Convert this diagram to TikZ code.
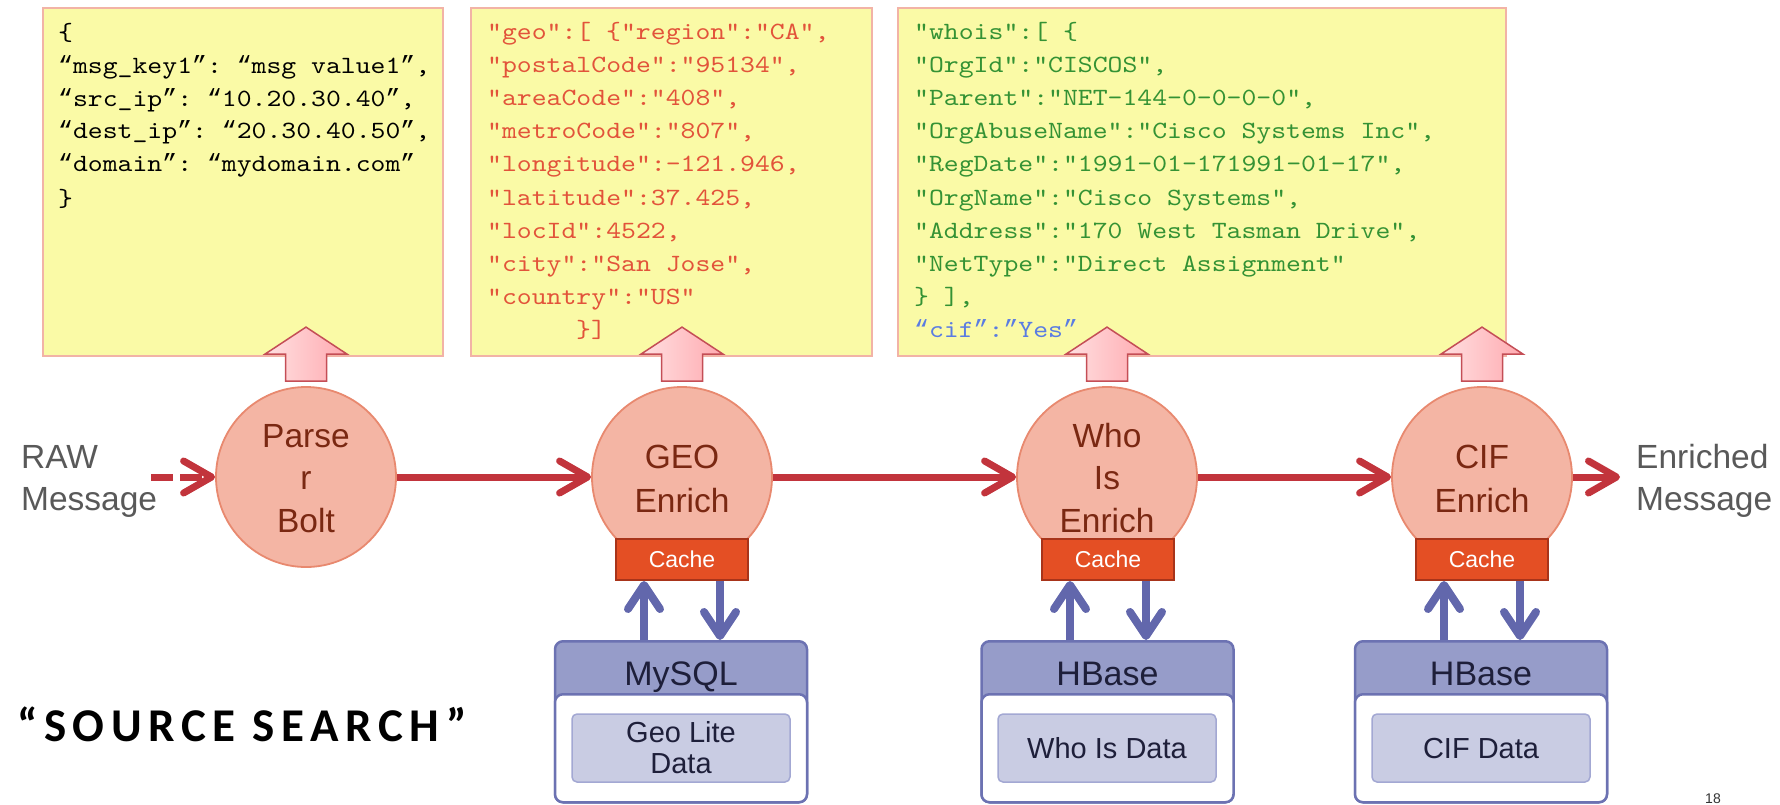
\documentclass[tikz,border=0pt]{standalone}
\usepackage{fontspec}
\setmainfont{Liberation Sans}
\setmonofont{lmmono10-regular.otf}[FakeStretch=1.143]
\newfontfamily\quotemono{Liberation Mono}
\newfontfamily\spacedfont[LetterSpace=14]{Carlito}
\usetikzlibrary{arrows.meta,calc}

% typographic quotes in the code listings
\newcommand{\oq}{{\quotemono “}}
\newcommand{\cq}{{\quotemono ”}}

\definecolor{noteFill}{HTML}{FAFAA6}
\definecolor{noteLine}{HTML}{F2B3A6}
\definecolor{geoText}{HTML}{E2533A}
\definecolor{whoText}{HTML}{349234}
\definecolor{cifText}{HTML}{5A7CE2}
\definecolor{bubbleFill}{HTML}{F4B5A4}
\definecolor{bubbleLine}{HTML}{E8896F}
\definecolor{bubbleText}{HTML}{7A2812}
\definecolor{flowRed}{HTML}{C2343C}
\definecolor{liftLight}{HTML}{FFE0E1}
\definecolor{liftDark}{HTML}{FFAAB0}
\definecolor{liftLine}{HTML}{C44E56}
\definecolor{cacheFill}{HTML}{E44F24}
\definecolor{cacheLine}{HTML}{A8341A}
\definecolor{storeBlue}{HTML}{6267AC}
\definecolor{storeHead}{HTML}{969CC9}
\definecolor{storeLine}{HTML}{6C72B2}
\definecolor{storeInner}{HTML}{C9CCE3}
\definecolor{storeInnerLine}{HTML}{A3A8D3}
\definecolor{storeText}{HTML}{1E1F3A}
\definecolor{greyText}{HTML}{595959}

\begin{document}
\begin{tikzpicture}[x=1pt, y=-1pt,
  note/.style={draw=noteLine, fill=noteFill, line width=1.5pt, inner sep=0pt, anchor=north west, minimum height=348pt},
  code/.style={anchor=base west, inner sep=0pt, font=\ttfamily\fontsize{24.8}{30}\selectfont},
  bubble/.style={circle, minimum size=180pt, inner sep=0pt, fill=bubbleFill, draw=bubbleLine, line width=1.8pt},
  bubbletext/.style={anchor=base, inner sep=0pt, text=bubbleText, font=\fontsize{33.5}{40}\selectfont},
  cachebox/.style={minimum width=132pt, minimum height=41pt, inner sep=0pt, fill=cacheFill, draw=cacheLine, line width=2pt, text=white, font=\fontsize{23}{28}\selectfont},
  flow/.style={draw=flowRed, line width=7pt, -{Straight Barb[length=28pt,width=32pt,round]}},
  lift/.style={draw=liftLine, line width=1.5pt, left color=liftLight, right color=liftDark, line join=miter},
  fetch/.style={draw=storeBlue, line width=8pt, -{Straight Barb[length=24pt,width=32pt,round]}},
  store/.style={rectangle, rounded corners=8pt, minimum width=252pt, inner sep=0pt, draw=storeLine, line width=2.5pt, anchor=north},
  storeinner/.style={rectangle, rounded corners=5pt, minimum width=218pt, minimum height=68pt, inner sep=0pt, fill=storeInner, draw=storeInnerLine, line width=1.5pt},
  storetext/.style={anchor=base, inner sep=0pt, text=storeText, font=\fontsize{34}{40}\selectfont},
  innertext/.style={anchor=base, inner sep=0pt, text=storeText, font=\fontsize{29}{34}\selectfont},
  side/.style={anchor=base west, inner sep=0pt, text=greyText, font=\fontsize{33.5}{40}\selectfont}
]
\useasboundingbox (0,0) rectangle (1780,804);

% ---------- message notes ----------
\node[note, minimum width=400pt] (rawnote) at (42,7) {};
\node[note, minimum width=401pt] (geonote) at (470,7) {};
\node[note, minimum width=608pt] (whonote) at (897,7) {};

% raw message
\node[code] (a1) at (58,40)  {\{};
\node[code] (a2) at (58,73)  {\oq msg\_key1\cq: \oq msg value1\cq,};
\node[code] (a3) at (58,106) {\oq src\_ip\cq: \oq 10.20.30.40\cq,};
\node[code] (a4) at (58,138) {\oq dest\_ip\cq: \oq 20.30.40.50\cq,};
\node[code] (a5) at (58,171) {\oq domain\cq: \oq mydomain.com\cq};
\node[code] (a6) at (58,206) {\}};

% geo enrichment
\begin{scope}[every node/.append style={text=geoText}]
\node[code] (b1)  at (487,39)    {"geo":[ \{"region":"CA",};
\node[code] (b2)  at (487,72.2)  {"postalCode":"95134",};
\node[code] (b3)  at (487,105.4) {"areaCode":"408",};
\node[code] (b4)  at (487,138.6) {"metroCode":"807",};
\node[code] (b5)  at (487,171.8) {"longitude":-121.946,};
\node[code] (b6)  at (487,205)   {"latitude":37.425,};
\node[code] (b7)  at (487,238.2) {"locId":4522,};
\node[code] (b8)  at (487,271.4) {"city":"San Jose",};
\node[code] (b9)  at (487,304.6) {"country":"US"};
\node[code] (b10) at (576,337.8) {\}]};
\end{scope}

% whois and cif enrichment
\begin{scope}[every node/.append style={text=whoText}]
\node[code] (w1)  at (914,39)    {"whois":[ \{};
\node[code] (w2)  at (914,72.2)  {"OrgId":"CISCOS",};
\node[code] (w3)  at (914,105.4) {"Parent":"NET-144-0-0-0-0",};
\node[code] (w4)  at (914,138.6) {"OrgAbuseName":"Cisco Systems Inc",};
\node[code] (w5)  at (914,171.8) {"RegDate":"1991-01-171991-01-17",};
\node[code] (w6)  at (914,205)   {"OrgName":"Cisco Systems",};
\node[code] (w7)  at (914,238.2) {"Address":"170 West Tasman Drive",};
\node[code] (w8)  at (914,271.4) {"NetType":"Direct Assignment"};
\node[code] (w9)  at (914,304.6) {\} ],};
\end{scope}
\node[code, text=cifText] (w10) at (914,337.8) {\oq cif\cq:\cq Yes\cq};

% ---------- processing bolts ----------
\node[bubble] (parser) at (306,477) {};
\node[bubble] (geo)    at (682,477) {};
\node[bubble] (who)    at (1107,477) {};
\node[bubble] (cif)    at (1482,477) {};

\node[bubbletext] (p1) at (306,447) {Parse};
\node[bubbletext] (p2) at (306,489) {r};
\node[bubbletext] (p3) at (306,532) {Bolt};
\node[bubbletext] (g1) at (682,468) {GEO};
\node[bubbletext] (g2) at (682,512) {Enrich};
\node[bubbletext] (h1) at (1107,447) {Who};
\node[bubbletext] (h2) at (1107,489) {Is};
\node[bubbletext] (h3) at (1107,532) {Enrich};
\node[bubbletext] (c1) at (1482,468) {CIF};
\node[bubbletext] (c2) at (1482,512) {Enrich};

\node[cachebox] (gcache) at (682,559.5)  {Cache};
\node[cachebox] (wcache) at (1108,559.5) {Cache};
\node[cachebox] (ccache) at (1482,559.5) {Cache};

% block arrows from each bolt up to its output
\foreach \n in {parser,geo,who,cif}
  \draw[lift, shift={(\n.north)}] (-20.5,-5) -- (-20.5,-32) -- (-41,-32) -- (0,-59)
        -- (41,-32) -- (20.5,-32) -- (20.5,-5) -- cycle;

% ---------- message flow ----------
\coordinate (rawstart) at (151,477);
\coordinate (outend) at (1620,477);
\draw[flow, dash pattern=on 22pt off 7pt] (rawstart) -- (parser.west);
\draw[flow] (parser.east) -- (geo.west);
\draw[flow] (geo.east) -- (who.west);
\draw[flow] (who.east) -- (cif.west);
\draw[flow] (cif.east) -- (outend);

\node[side] (raw1) at (21,468) {RAW};
\node[side] (raw2) at (21,510) {Message};
\node[side] (enr1) at (1636,468) {Enriched};
\node[side] (enr2) at (1636,510) {Message};

% ---------- data stores ----------
\node[store, fill=storeHead, minimum height=161pt] (mysql) at (681,640) {};
\node[store, fill=white, minimum height=108pt] (mysqlbody) at (681,693) {};
\node[storeinner] (mysqlinner) at (681,748) {};
\node[storetext] (mysqltitle) at (681,685) {MySQL};
\node[innertext] (gl1) at (681,742) {Geo Lite};
\node[innertext] (gl2) at (681,773) {Data};

\node[store, fill=storeHead, minimum height=161pt] (hwho) at (1107.5,640) {};
\node[store, fill=white, minimum height=108pt] (hwhobody) at (1107.5,693) {};
\node[storeinner] (hwhoinner) at (1107,748) {};
\node[storetext] (hwhotitle) at (1107.5,685) {HBase};
\node[innertext] (wd) at (1107,758) {Who Is Data};

\node[store, fill=storeHead, minimum height=161pt] (hcif) at (1481,640) {};
\node[store, fill=white, minimum height=108pt] (hcifbody) at (1481,693) {};
\node[storeinner] (hcifinner) at (1481,748) {};
\node[storetext] (hciftitle) at (1481,685) {HBase};
\node[innertext] (cd) at (1481,758) {CIF Data};

% cache lookups
\draw[fetch] ([xshift=-38pt]gcache.south |- mysql.north) -- ([xshift=-38pt]gcache.south);
\draw[fetch] ([xshift=38pt]gcache.south) -- ([xshift=38pt]gcache.south |- mysql.north);
\draw[fetch] ([xshift=-38pt]wcache.south |- hwho.north) -- ([xshift=-38pt]wcache.south);
\draw[fetch] ([xshift=38pt]wcache.south) -- ([xshift=38pt]wcache.south |- hwho.north);
\draw[fetch] ([xshift=-38pt]ccache.south |- hcif.north) -- ([xshift=-38pt]ccache.south);
\draw[fetch] ([xshift=38pt]ccache.south) -- ([xshift=38pt]ccache.south |- hcif.north);

% ---------- caption ----------
\node[anchor=base west, inner sep=0pt, font=\spacedfont\bfseries\fontsize{47}{56}\selectfont] (caption) at (17,741) {“SOURCE SEARCH”};
\node[anchor=base, inner sep=0pt, text=black!80, font=\fontsize{14}{16}\selectfont] (pagenum) at (1713,803) {18};
\end{tikzpicture}
\end{document}
